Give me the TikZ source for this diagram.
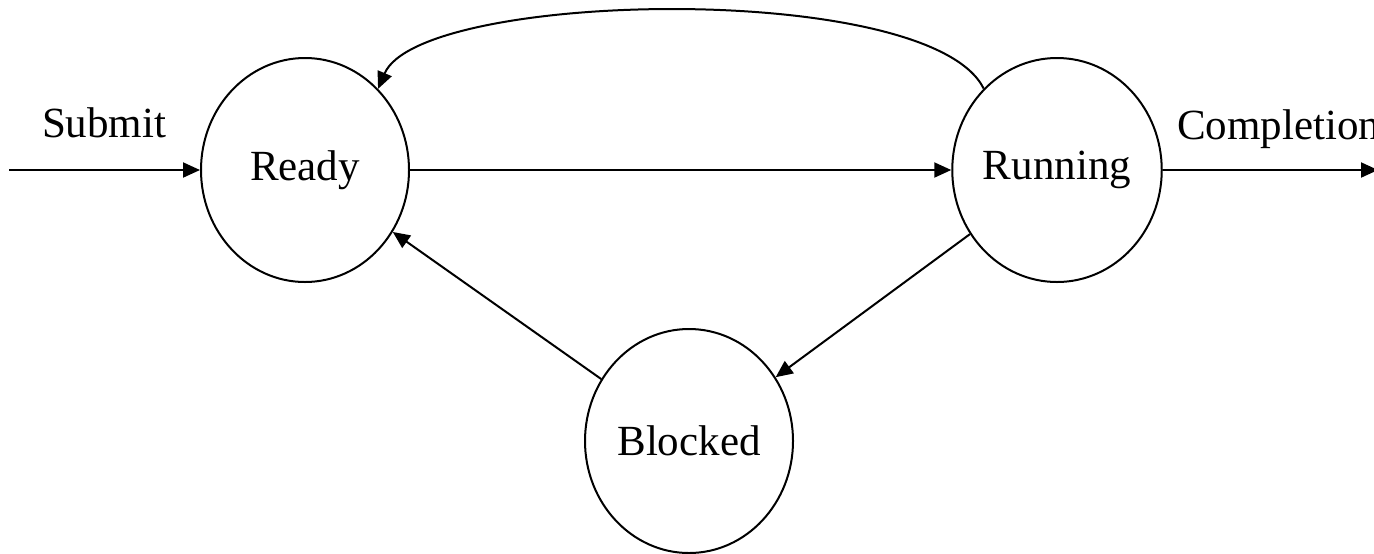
\documentclass[tikz,border=0pt]{standalone}
\usepackage{fontspec}
\setmainfont{Liberation Serif}
\usetikzlibrary{shapes.geometric,arrows.meta}
\begin{document}
\begin{tikzpicture}[x=0.5pt,y=-0.5pt, line width=1pt,
  state/.style={ellipse, draw, minimum width=104pt, minimum height=112pt, inner sep=0pt, font=\fontsize{21.5}{25}\selectfont},
  lbl/.style={anchor=base west, inner sep=0pt, font=\fontsize{21.5}{25}\selectfont},
  arr/.style={-{Triangle[length=8.5pt,width=7.5pt]}}]
\useasboundingbox (0,0) rectangle (1374,553);
\node[state] (ready) at (305,170) {Ready};
\node[state] (running) at (1057,170) {Running};
\node[state] (blocked) at (689,441) {Blocked};
\coordinate (in) at (9,170);
\coordinate (out) at (1378,170);
\node[lbl] (submit) at (41,137) {Submit};
\node[lbl] (completion) at (1176,139) {Completion};
\draw[arr] (in) -- (ready);
\draw[arr] (ready) -- (running);
\draw[arr] (running) -- (out);
\draw[arr] (running) -- (blocked);
\draw[arr] (blocked) -- (ready);
\draw[arr] (running.132) .. controls (930,-20) and (420,-10) .. (ready.48);
\end{tikzpicture}
\end{document}
